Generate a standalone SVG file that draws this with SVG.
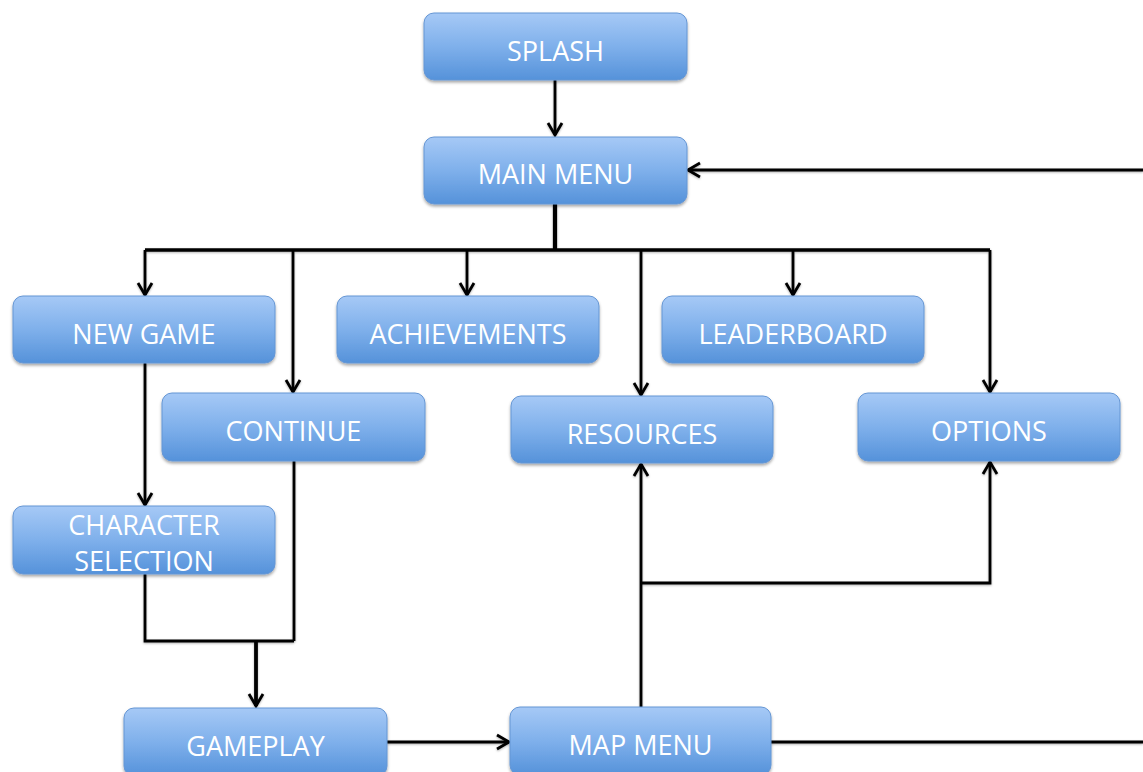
<svg xmlns="http://www.w3.org/2000/svg" width="1143" height="772" viewBox="0 0 1143 772">
<defs>
<linearGradient id="g" x1="0" y1="0" x2="0" y2="1">
<stop offset="0" stop-color="#a6c9f6"/>
<stop offset="0.5" stop-color="#7fb0eb"/>
<stop offset="1" stop-color="#5592da"/>
</linearGradient>
<filter id="sh" x="-10%" y="-10%" width="120%" height="130%">
<feDropShadow dx="0" dy="2" stdDeviation="1.6" flood-color="#000" flood-opacity="0.35"/>
</filter>
<filter id="lsh" x="-5%" y="-5%" width="110%" height="110%">
<feDropShadow dx="0" dy="1" stdDeviation="0.8" flood-color="#000" flood-opacity="0.3"/>
</filter>
<marker id="ah" viewBox="-14 -9 16 18" refX="0" refY="0" markerWidth="16" markerHeight="18" markerUnits="userSpaceOnUse" orient="auto">
<path d="M -12 -7 L 0 0 L -12 7" fill="none" stroke="#000" stroke-width="2.8" stroke-linejoin="miter"/>
</marker>
</defs>
<style>
.box{fill:url(#g);stroke:#6596d4;stroke-width:1;filter:url(#sh)}
.lbl{font-family:"Open Sans","Liberation Sans",sans-serif;font-size:27px;fill:#ffffff;text-anchor:middle}
.c{fill:none;stroke:#000;stroke-width:2.8;stroke-linejoin:miter}
.a{marker-end:url(#ah)}
.thick{stroke-width:4.2}
</style>
<rect width="1143" height="772" fill="#ffffff"/>
<g id="connectors" filter="url(#lsh)">
<path class="c a" d="M555,80 V135"/>
<path class="c thick" d="M555,204 V251"/>
<path class="c" style="stroke-width:3.4" d="M145,250 H990"/>
<path class="c a" d="M145,250 V295"/>
<path class="c a" d="M293,250 V392"/>
<path class="c a" d="M467,250 V295"/>
<path class="c a" d="M641,250 V395"/>
<path class="c a" d="M793,250 V295"/>
<path class="c a" d="M990,250 V392"/>
<path class="c a" d="M145,363 V505"/>
<path class="c" d="M145,574 V641 H294"/>
<path class="c" d="M294,461 V641"/>
<path class="c a" style="stroke-width:3.8" d="M256,641 V706"/>
<path class="c a" d="M387,742 H509"/>
<path class="c a" d="M641,707 V464"/>
<path class="c a" d="M641,583 H990 V462"/>
<path class="c" d="M771,742 H1143"/>
<path class="c a" d="M1143,170 H688"/>
</g>
<g id="splash"><rect class="box" x="424" y="13" width="263" height="67" rx="10"/><text class="lbl" x="555.5" y="60.5">SPLASH</text></g>
<g id="main-menu"><rect class="box" x="424" y="137" width="263" height="67" rx="10"/><text class="lbl" x="555.5" y="183.5">MAIN MENU</text></g>
<g id="new-game"><rect class="box" x="13" y="296" width="262" height="67" rx="10"/><text class="lbl" x="144" y="343.5">NEW GAME</text></g>
<g id="achievements"><rect class="box" x="337" y="296" width="262" height="67" rx="10"/><text class="lbl" x="468" y="343.5">ACHIEVEMENTS</text></g>
<g id="leaderboard"><rect class="box" x="662" y="296" width="262" height="67" rx="10"/><text class="lbl" x="793" y="343.5">LEADERBOARD</text></g>
<g id="continue"><rect class="box" x="162" y="393" width="263" height="68" rx="10"/><text class="lbl" x="293.5" y="440.5">CONTINUE</text></g>
<g id="resources"><rect class="box" x="511" y="396" width="262" height="67" rx="10"/><text class="lbl" x="642" y="443.5">RESOURCES</text></g>
<g id="options"><rect class="box" x="858" y="393" width="262" height="68" rx="10"/><text class="lbl" x="989" y="440.5">OPTIONS</text></g>
<g id="character-selection"><rect class="box" x="13" y="506" width="262" height="68" rx="10"/><text class="lbl" x="144" y="534.5">CHARACTER</text><text class="lbl" x="144" y="570.5">SELECTION</text></g>
<g id="gameplay"><rect class="box" x="124" y="708" width="263" height="68" rx="10"/><text class="lbl" x="255.5" y="755.5">GAMEPLAY</text></g>
<g id="map-menu"><rect class="box" x="510" y="707" width="261" height="68" rx="10"/><text class="lbl" x="640.5" y="754.5">MAP MENU</text></g>
</svg>
